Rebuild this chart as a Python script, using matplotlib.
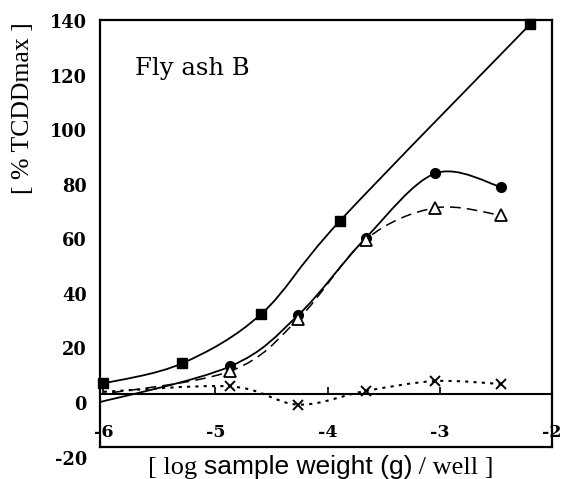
import numpy as np
import matplotlib
matplotlib.use("Agg")
import matplotlib.pyplot as plt
from matplotlib.path import Path
from matplotlib.patches import PathPatch
import matplotlib.transforms as mtransforms

plt.rcParams['axes.unicode_minus'] = False

# ---------------- data ----------------
sq_x = [-6.0, -5.3, -4.59, -3.89, -2.19]
sq_y = [3.8, 11.3, 29.9, 64.7, 138.5]

ci_x = [-4.87, -4.26, -3.66, -3.04, -2.45]
ci_y = [10.2, 29.5, 58.3, 82.5, 77.4]

tr_x = [-4.87, -4.26, -3.66, -3.04, -2.45]
tr_y = [8.4, 28.0, 57.7, 69.6, 66.8]

xx_x = [-4.87, -4.26, -3.66, -3.04, -2.45]
xx_y = [2.7, -4.1, 1.0, 4.7, 3.6]

# line start points (no marker, left of the plotted range)
lead_x = -6.07
ci_lead = -3.6
tr_lead = -0.5
xx_lead = 0.5

yticks = [-20, 0, 20, 40, 60, 80, 100, 120, 140]
xticks = [-6, -5, -4, -3, -2]
xtick_labels = ['-6', '-5', '-4', '-3', '-2']

# ---------------- helpers ----------------
def smooth_path(xs, ys):
    pts = np.column_stack([xs, ys]).astype(float)
    n = len(pts)
    verts = [pts[0]]
    codes = [Path.MOVETO]
    for i in range(n - 1):
        p0 = pts[i - 1] if i > 0 else pts[i]
        p1 = pts[i]
        p2 = pts[i + 1]
        p3 = pts[i + 2] if i + 2 < n else pts[i + 1]
        c1 = p1 + (p2 - p0) / 6.0
        c2 = p2 - (p3 - p1) / 6.0
        verts += [c1, c2, p2]
        codes += [Path.CURVE4] * 3
    return Path(verts, codes)

# ---------------- figure ----------------
W, H = 564, 479
fig = plt.figure(figsize=(W / 100, H / 100), dpi=100)
ax = fig.add_axes([100 / W, 1 - 447 / H, 451.7 / W, 427 / H])
ax.set_xlim(-6.03, -2.0)
ax.set_ylim(-20, 140)
for s in ax.spines.values():
    s.set_linewidth(1.6)
    s.set_color('black')
ax.set_xticks([])
ax.set_yticks([])

# zero axis with ticks
sec = ax.secondary_xaxis(0.125)
sec.spines['bottom'].set_linewidth(1.5)
sec.set_xticks(xticks)
sec.set_xticklabels(xtick_labels, family='DejaVu Serif', fontweight='bold', fontsize=12.5)
sec.tick_params(direction='in', length=5, width=1.2, pad=22, colors='black')

# y tick labels (offset as in the original)
trans = mtransforms.blended_transform_factory(ax.transAxes, ax.transData)
for v in yticks:
    p = 241.3 - 2.729 * (v - 60)        # pixel row of label centre
    ylab = 140 - (p - 20) / (427 / 160)
    ax.text(-0.029, ylab, str(v), transform=trans, ha='right', va='center',
            family='DejaVu Serif', fontweight='bold', fontsize=12.8, clip_on=False)

# series lines
ax.add_patch(PathPatch(smooth_path(sq_x, sq_y), fill=False, lw=1.3, edgecolor='black'))
ax.add_patch(PathPatch(smooth_path([lead_x] + ci_x, [ci_lead] + ci_y), fill=False,
                       lw=1.3, edgecolor='black'))
ax.add_patch(PathPatch(smooth_path([lead_x] + tr_x, [tr_lead] + tr_y), fill=False,
                       lw=1.1, edgecolor='black', linestyle=(0, (7, 4))))
ax.add_patch(PathPatch(smooth_path([lead_x] + xx_x, [xx_lead] + xx_y), fill=False,
                       lw=1.5, edgecolor='black', linestyle=(0, (1.5, 2.5))))

# markers
ax.plot(sq_x, sq_y, linestyle='none', marker='s', ms=7.5, color='black', clip_on=False)
ax.plot(ci_x, ci_y, linestyle='none', marker='o', ms=7, color='black')
ax.plot(tr_x, tr_y, linestyle='none', marker='^', ms=8, mfc='white', mec='black', mew=1.3)
ax.plot(xx_x, xx_y, linestyle='none', marker='x', ms=7.5, mec='black', mew=1.4)

ax.text(-5.72, 119.4, 'Fly ash B', family='DejaVu Serif', fontsize=17.5, va='baseline')

# y label
fig.text(23 / W, 1 - 108 / H, '[ % TCDDmax ]', rotation=90, ha='center', va='center',
         family='Liberation Serif', fontsize=18.5)

# x label in mixed fonts
pieces = [('[ log ', 'Liberation Serif'), ('sample weight (g)', 'Liberation Sans'),
          (' / well ]', 'Liberation Serif')]
x0 = 148
base = 1 - 474 / H
fig.canvas.draw()
r = fig.canvas.get_renderer()
for txt, fam in pieces:
    t = fig.text(x0 / W, base, txt, family=fam, fontsize=19, va='baseline', ha='left')
    bb = t.get_window_extent(renderer=r)
    x0 += bb.width

fig.savefig('out.png', dpi=100)
